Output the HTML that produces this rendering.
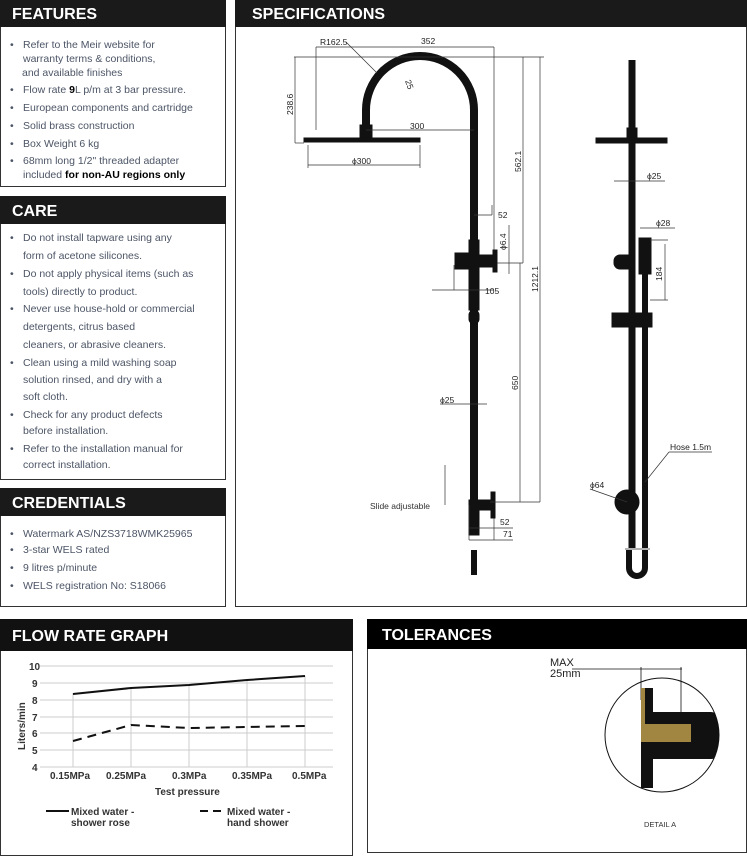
<!DOCTYPE html>
<html><head><meta charset="utf-8"><style>
html,body{margin:0;padding:0;background:#fff;}
svg{display:block;font-family:"Liberation Sans",sans-serif;}
.h{font-weight:bold;fill:#fff;font-size:16px;}
.t{font-size:10.5px;fill:#4c5566;}
.d{font-size:8.5px;fill:#222;}
.g{font-size:10px;fill:#333;font-weight:bold;}
</style></head><body>
<svg width="747" height="859" viewBox="0 0 747 859" xmlns="http://www.w3.org/2000/svg">
<!-- FEATURES -->
<rect x="0.5" y="0.5" width="225" height="186" fill="none" stroke="#333"/>
<rect x="0" y="0" width="226" height="27" fill="#1a1a1a"/>
<text class="h" x="12" y="19">FEATURES</text>
<g class="t">
<text x="10" y="48">•</text><text x="23" y="48">Refer to the Meir website for</text>
<text x="23" y="62">warranty terms &amp; conditions,</text>
<text x="22" y="76">and available finishes</text>
<text x="10" y="93">•</text><text x="23" y="93">Flow rate <tspan font-weight="bold" fill="#000">9</tspan>L p/m at 3 bar pressure.</text>
<text x="10" y="111">•</text><text x="23" y="111">European components and cartridge</text>
<text x="10" y="129">•</text><text x="23" y="129">Solid brass construction</text>
<text x="10" y="147">•</text><text x="23" y="147">Box Weight 6 kg</text>
<text x="10" y="164">•</text><text x="23" y="164">68mm long 1/2" threaded adapter</text>
<text x="23" y="178">included <tspan font-weight="bold" fill="#000">for non-AU regions only</tspan></text>
</g>
<!-- CARE -->
<rect x="0.5" y="196.5" width="225" height="283" fill="none" stroke="#333"/>
<rect x="0" y="196" width="226" height="28" fill="#1a1a1a"/>
<text class="h" x="12" y="216">CARE</text>
<g class="t" fill="#333">
<text x="10" y="241">•</text><text x="23" y="241">Do not install tapware using any</text>
<text x="23" y="259">form of acetone silicones.</text>
<text x="10" y="277">•</text><text x="23" y="277">Do not apply physical items (such as</text>
<text x="23" y="295">tools) directly to product.</text>
<text x="10" y="312">•</text><text x="23" y="312">Never use house-hold or commercial</text>
<text x="23" y="330">detergents, citrus based</text>
<text x="23" y="348">cleaners, or abrasive cleaners.</text>
<text x="10" y="366">•</text><text x="23" y="366">Clean using a mild washing soap</text>
<text x="23" y="383">solution rinsed, and dry with a</text>
<text x="23" y="400">soft cloth.</text>
<text x="10" y="418">•</text><text x="23" y="418">Check for any product defects</text>
<text x="23" y="434">before installation.</text>
<text x="10" y="452">•</text><text x="23" y="452">Refer to the installation manual for</text>
<text x="23" y="468">correct installation.</text>
</g>
<!-- CREDENTIALS -->
<rect x="0.5" y="488.5" width="225" height="118" fill="none" stroke="#333"/>
<rect x="0" y="488" width="226" height="28" fill="#1a1a1a"/>
<text class="h" x="12" y="508">CREDENTIALS</text>
<g class="t">
<text x="10" y="537">•</text><text x="23" y="537">Watermark AS/NZS3718WMK25965</text>
<text x="10" y="553">•</text><text x="23" y="553">3-star WELS rated</text>
<text x="10" y="571">•</text><text x="23" y="571">9 litres p/minute</text>
<text x="10" y="589">•</text><text x="23" y="589">WELS registration No: S18066</text>
</g>
<!-- SPECIFICATIONS -->
<rect x="235.5" y="0.5" width="511" height="606" fill="none" stroke="#333"/>
<rect x="235" y="0" width="512" height="27" fill="#1a1a1a"/>
<text class="h" x="252" y="19">SPECIFICATIONS</text>
<!-- left fixture -->
<g fill="none" stroke="#111">
<path d="M366 130 L366 110 A54 54 0 0 1 474 110 L474 505" stroke-width="8"/>
<rect x="304" y="138" width="116" height="4" fill="#111"/>
<rect x="360" y="125" width="12" height="13" fill="#111"/>
<rect x="469" y="240" width="10" height="70" fill="#111"/>
<rect x="455" y="253" width="20" height="16" fill="#111"/>
<rect x="478" y="255" width="15" height="12" fill="#111"/>
<rect x="493" y="250" width="4" height="22" fill="#111"/>
<rect x="469" y="310" width="10" height="14" rx="5" fill="#111"/>
<rect x="469" y="500" width="10" height="35" fill="#111"/>
<rect x="478" y="500" width="13" height="10" fill="#111"/>
<rect x="491" y="492" width="4" height="26" fill="#111"/>
<path d="M474 550 L474 575" stroke-width="6"/>
</g>
<g stroke="#333" stroke-width="0.7" fill="none">
<line x1="316" y1="47" x2="494" y2="47"/><line x1="316" y1="47" x2="316" y2="130"/><line x1="494" y1="47" x2="494" y2="250"/>
<line x1="294" y1="57" x2="544" y2="57"/><line x1="295" y1="57" x2="295" y2="143"/><line x1="295" y1="143" x2="304" y2="143"/>
<line x1="366" y1="130" x2="474" y2="130"/>
<line x1="308" y1="165" x2="420" y2="165"/><line x1="308" y1="145" x2="308" y2="168"/><line x1="420" y1="145" x2="420" y2="168"/>
<line x1="523" y1="57" x2="523" y2="263"/><line x1="540" y1="57" x2="540" y2="502"/>
<line x1="474" y1="215" x2="492" y2="215"/><line x1="492" y1="205" x2="492" y2="215"/>
<line x1="509" y1="225" x2="509" y2="274"/><line x1="497" y1="263" x2="523" y2="263"/>
<line x1="432" y1="290" x2="494" y2="290"/><line x1="454" y1="265" x2="454" y2="290"/>
<line x1="520" y1="263" x2="520" y2="502"/><line x1="490" y1="502" x2="540" y2="502"/>
<line x1="440" y1="404" x2="487" y2="404"/>
<line x1="346" y1="42" x2="377" y2="73"/>
<line x1="445" y1="465" x2="445" y2="505"/>
<line x1="469" y1="528" x2="513" y2="528"/><line x1="469" y1="540" x2="513" y2="540"/><line x1="469" y1="505" x2="469" y2="540"/><line x1="494" y1="518" x2="494" y2="540"/>
</g>
<g class="d">
<text x="320" y="45">R162.5</text><text x="421" y="44">352</text>
<text x="410" y="129">300</text><text x="352" y="164">ϕ300</text>
<text x="498" y="218">52</text><text x="485" y="294">105</text>
<text x="440" y="403">ϕ25</text>
<text x="370" y="509" fill="#333">Slide adjustable</text>
<text x="500" y="525">52</text><text x="503" y="537">71</text>
<text transform="translate(293,115) rotate(-90)">238.6</text>
<text transform="translate(521,172) rotate(-90)">562.1</text>
<text transform="translate(538,292) rotate(-90)">1212.1</text>
<text transform="translate(518,390) rotate(-90)">650</text>
<text transform="translate(506,250) rotate(-90)">ϕ6.4</text>
<text transform="translate(405,81) rotate(70)">25</text>
</g>
<!-- right fixture -->
<g fill="none" stroke="#111">
<line x1="632" y1="60" x2="632" y2="548" stroke-width="7"/>
<line x1="645" y1="240" x2="645" y2="548" stroke-width="6"/>
<path d="M629 550 L629 568 A8 8 0 0 0 645 568 L645 550" stroke-width="6"/>
<rect x="596" y="138" width="71" height="5" fill="#111"/>
<rect x="627" y="128" width="10" height="10" fill="#111"/>
<rect x="614" y="255" width="20" height="14" rx="6" fill="#111"/>
<rect x="639" y="238" width="12" height="36" fill="#111"/>
<rect x="612" y="313" width="40" height="14" fill="#111"/>
<circle cx="627" cy="502" r="12" fill="#111"/>
</g>
<g stroke="#333" stroke-width="0.7" fill="none">
<line x1="614" y1="181" x2="665" y2="181"/><line x1="640" y1="228" x2="675" y2="228"/>
<line x1="665" y1="244" x2="665" y2="300"/><line x1="650" y1="240" x2="668" y2="240"/><line x1="650" y1="300" x2="668" y2="300"/>
<line x1="590" y1="489" x2="627" y2="502"/><line x1="645" y1="482" x2="669" y2="452"/><line x1="669" y1="452" x2="712" y2="452"/>
<line x1="625" y1="549" x2="650" y2="549"/>
</g>
<g class="d">
<text x="647" y="179">ϕ25</text><text x="656" y="226">ϕ28</text>
<text transform="translate(662,281) rotate(-90)">184</text>
<text x="590" y="488">ϕ64</text><text x="670" y="450">Hose 1.5m</text>
</g>
<!-- FLOW RATE -->
<rect x="0.5" y="619.5" width="352" height="236" fill="none" stroke="#333"/>
<rect x="0" y="619" width="353" height="32" fill="#111"/>
<text class="h" x="12" y="641">FLOW RATE GRAPH</text>
<g stroke="#ccc" stroke-width="1">
<line x1="40" y1="666" x2="333" y2="666"/><line x1="40" y1="683" x2="333" y2="683"/><line x1="40" y1="700" x2="333" y2="700"/><line x1="40" y1="717" x2="333" y2="717"/><line x1="40" y1="733" x2="333" y2="733"/><line x1="40" y1="750" x2="333" y2="750"/><line x1="40" y1="767" x2="333" y2="767"/>
<line x1="73" y1="693" x2="73" y2="767"/><line x1="131" y1="687" x2="131" y2="767"/><line x1="189" y1="685" x2="189" y2="767"/><line x1="247" y1="680" x2="247" y2="767"/><line x1="305" y1="676" x2="305" y2="767"/>
</g>
<polyline points="73,694 131,688 189,685 247,680 305,676" fill="none" stroke="#111" stroke-width="2"/>
<polyline points="73,741 131,725 189,728 247,727 305,726" fill="none" stroke="#111" stroke-width="2" stroke-dasharray="9,6"/>
<g class="g">
<text x="29" y="670">10</text><text x="32" y="687">9</text><text x="32" y="704">8</text><text x="32" y="721">7</text><text x="32" y="737">6</text><text x="32" y="754">5</text><text x="32" y="771">4</text>
<text x="50" y="779">0.15MPa</text><text x="106" y="779">0.25MPa</text><text x="172" y="779">0.3MPa</text><text x="232" y="779">0.35MPa</text><text x="292" y="779">0.5MPa</text>
<text x="155" y="795">Test pressure</text>
<text transform="translate(25,750) rotate(-90)">Liters/min</text>
<text x="71" y="815">Mixed water -</text><text x="71" y="826">shower rose</text>
<text x="227" y="815">Mixed water -</text><text x="227" y="826">hand shower</text>
</g>
<line x1="46" y1="811" x2="69" y2="811" stroke="#111" stroke-width="2"/>
<line x1="200" y1="811" x2="224" y2="811" stroke="#111" stroke-width="2" stroke-dasharray="8,5"/>
<!-- TOLERANCES -->
<rect x="367.5" y="619.5" width="379" height="233" fill="none" stroke="#333"/>
<rect x="367" y="619" width="380" height="30" fill="#000"/>
<text class="h" x="382" y="640">TOLERANCES</text>
<text x="550" y="666" font-size="11" fill="#222">MAX</text>
<text x="550" y="677" font-size="11" fill="#222">25mm</text>
<g stroke="#111" stroke-width="0.8" fill="none">
<line x1="572" y1="669" x2="682" y2="669"/><line x1="641" y1="667" x2="641" y2="700"/><line x1="681" y1="667" x2="681" y2="713"/>
</g>
<defs><clipPath id="c"><circle cx="662" cy="735" r="57"/></clipPath></defs>
<g clip-path="url(#c)">
<rect x="641" y="688" width="12" height="100" fill="#111"/>
<rect x="641" y="712" width="80" height="47" rx="10" fill="#111"/>
<rect x="641" y="724" width="50" height="18" fill="#a08640"/>
<rect x="641" y="688" width="4" height="40" fill="#a08640"/>
<rect x="653" y="759" width="70" height="40" fill="#fff"/>
</g>
<circle cx="662" cy="735" r="57" fill="none" stroke="#111" stroke-width="1"/>
<text x="644" y="827" font-size="7.5" fill="#333">DETAIL A</text>
</svg>
</body></html>
